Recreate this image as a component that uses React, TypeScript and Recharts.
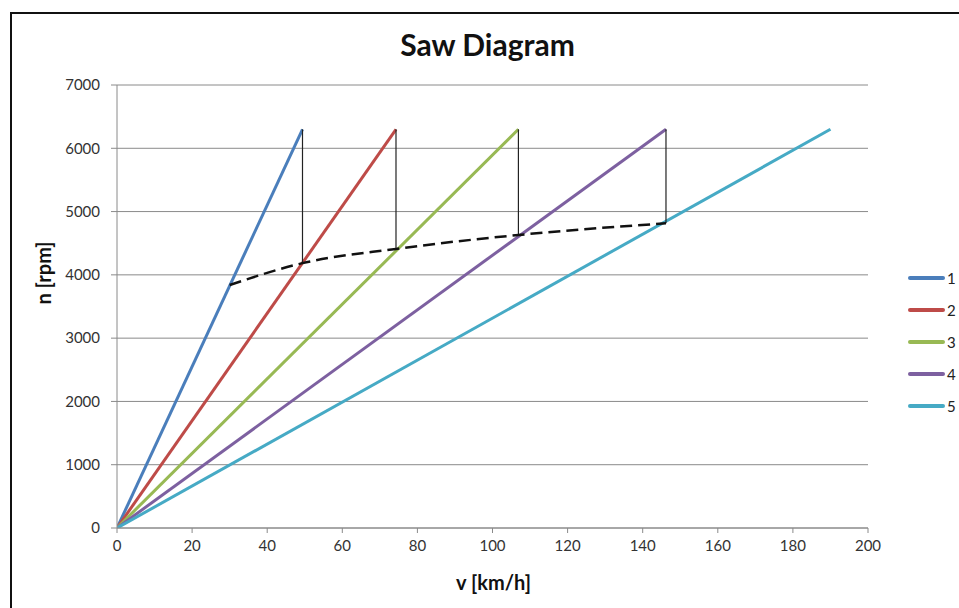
import React from "react";
import { LineChart, Line, XAxis, YAxis, CartesianGrid, Legend } from "recharts";

const gearNames = ["1", "2", "3", "4", "5"];
const gearColors = ["#4A7EBB", "#BE4B48", "#98B954", "#7D60A0", "#46AAC5"];
const gearEndSpeeds = [49.4, 74.3, 106.9, 146.2, 190];
const maxRpm = 6300;
const shiftSpeeds = [49.4, 74.3, 106.9, 146.2];
const shiftDropRpm = [4185, 4410, 4630, 4815];
const envelopeSpeeds = [30, 49.4, 74.3, 106.9, 146.2];
const envelopeRpm = [3840, 4185, 4410, 4630, 4815];
const xTicks = [0, 20, 40, 60, 80, 100, 120, 140, 160, 180, 200];
const yTicks = [0, 1000, 2000, 3000, 4000, 5000, 6000, 7000];

const FONT = "Lato, 'Open Sans', sans-serif";

const gearData = gearEndSpeeds.map((v) => [
  { v: 0, n: 0 },
  { v, n: maxRpm },
]);
const dropData = shiftSpeeds.map((v, i) => [
  { v, n: maxRpm },
  { v, n: shiftDropRpm[i] },
]);
const envelopeData = envelopeSpeeds.map((v, i) => ({ v, n: envelopeRpm[i] }));

const LegendContent = () => (
  <div style={{ fontFamily: FONT, fontSize: 15, color: "#222" }}>
    {gearNames.map((name, i) => (
      <div key={name} style={{ height: 32, display: "flex", alignItems: "center" }}>
        <div style={{ width: 37, height: 4, background: gearColors[i], borderRadius: 2 }} />
        <span style={{ marginLeft: 2 }}>{name}</span>
      </div>
    ))}
  </div>
);

export default function App() {
  return (
    <div style={{ position: "absolute", left: 0, top: 0, width: 959, height: 608, background: "#fff", overflow: "hidden" }}>
      <div
        style={{
          position: "absolute",
          left: 10,
          top: 12,
          width: 960,
          height: 620,
          border: "2px solid #111",
          boxSizing: "border-box",
        }}
      />
      <div
        style={{
          position: "absolute",
          left: 0,
          width: 975,
          top: 26,
          textAlign: "center",
          fontFamily: FONT,
          fontWeight: "bold",
          fontSize: 30,
          lineHeight: "36px",
          color: "#111",
        }}
      >
        Saw Diagram
      </div>
      <div
        style={{
          position: "absolute",
          left: 0,
          width: 987,
          top: 570,
          textAlign: "center",
          fontFamily: FONT,
          fontWeight: "bold",
          fontSize: 20,
          color: "#111",
        }}
      >
        v [km/h]
      </div>
      <div
        style={{
          position: "absolute",
          left: 43,
          top: 273,
          transform: "translate(-50%, -50%) rotate(-90deg)",
          fontFamily: FONT,
          fontWeight: "bold",
          fontSize: 20,
          color: "#111",
          whiteSpace: "nowrap",
        }}
      >
        n [rpm]
      </div>
      <div style={{ position: "absolute", left: 0, top: 0 }}>
        <LineChart
          width={959}
          height={608}
          margin={{ top: 85, right: 91, bottom: 50, left: 57 }}
        >
          <CartesianGrid horizontal={true} vertical={false} stroke="#8a8a8a" strokeWidth={1} />
          <XAxis
            type="number"
            dataKey="v"
            domain={[0, 200]}
            ticks={xTicks}
            height={30}
            allowDataOverflow
            stroke="#8a8a8a"
            tickSize={5}
            tickMargin={7}
            tick={{ fill: "#333", fontSize: 15, fontFamily: FONT }}
            interval={0}
          />
          <YAxis
            type="number"
            dataKey="n"
            domain={[0, 7000]}
            ticks={yTicks}
            width={60}
            allowDataOverflow
            stroke="#8a8a8a"
            tickSize={6}
            tickMargin={11}
            tick={{ fill: "#333", fontSize: 15, fontFamily: FONT }}
            interval={0}
          />
          <Legend
            verticalAlign="middle"
            align="center"
            layout="horizontal"
            content={<LegendContent />}
            wrapperStyle={{ position: "absolute", left: 908, top: 262, width: 50 }}
          />
          {gearData.map((d, i) => (
            <Line
              key={"g" + i}
              data={d}
              dataKey="n"
              name={gearNames[i]}
              stroke={gearColors[i]}
              strokeWidth={3}
              dot={false}
              activeDot={false}
              type="linear"
              isAnimationActive={false}
            />
          ))}
          {dropData.map((d, i) => (
            <Line
              key={"d" + i}
              data={d}
              dataKey="n"
              legendType="none"
              stroke="#222"
              strokeWidth={1.2}
              dot={false}
              activeDot={false}
              type="linear"
              isAnimationActive={false}
            />
          ))}
          <Line
            data={envelopeData}
            dataKey="n"
            legendType="none"
            stroke="#111"
            strokeWidth={2.5}
            strokeDasharray="12 6"
            dot={false}
            activeDot={false}
            type="monotone"
            isAnimationActive={false}
          />
        </LineChart>
      </div>
    </div>
  );
}
